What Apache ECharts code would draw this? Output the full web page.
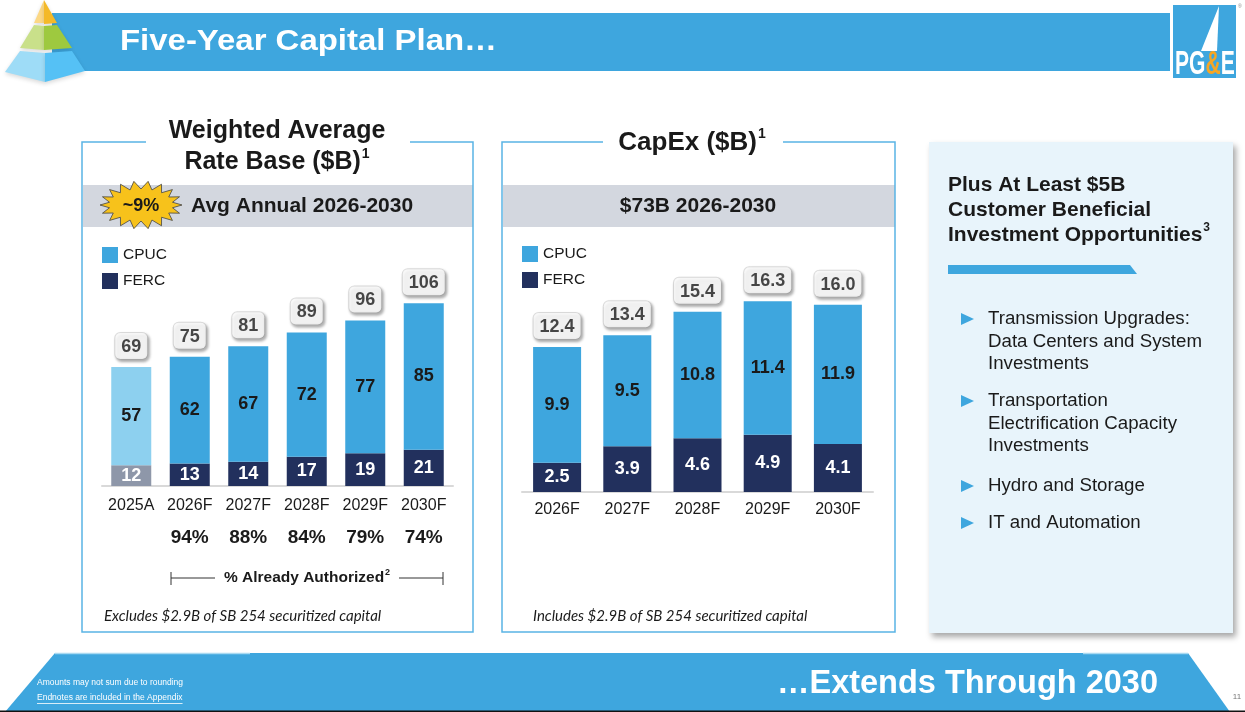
<!DOCTYPE html>
<html>
<head>
<meta charset="utf-8">
<script src="https://cdn.jsdelivr.net/npm/echarts@6/dist/echarts.min.js"></script>
<style>
html,body{margin:0;padding:0;background:#fff;}
#c{width:1245px;height:712px;}
</style>
</head>
<body>
<div id="c"></div>
<script>
// ---------- DATA ----------
const rbCategories = ['2025A', '2026F', '2027F', '2028F', '2029F', '2030F'];
const rbCPUC = [57, 62, 67, 72, 77, 85];
const rbFERC = [12, 13, 14, 17, 19, 21];
const rbTotal = [69, 75, 81, 89, 96, 106];
const rbAuthorized = ['', '94%', '88%', '84%', '79%', '74%'];

const capexCategories = ['2026F', '2027F', '2028F', '2029F', '2030F'];
const capexCPUC = [9.9, 9.5, 10.8, 11.4, 11.9];
const capexFERC = [2.5, 3.9, 4.6, 4.9, 4.1];
const capexTotal = [12.4, 13.4, 15.4, 16.3, 16.0];

const opportunities = [
  ['Transmission Upgrades:', 'Data Centers and System', 'Investments'],
  ['Transportation', 'Electrification Capacity', 'Investments'],
  ['Hydro and Storage'],
  ['IT and Automation']
];

// ---------- STYLE ----------
const BLUE = '#3ea6de';
const NAVY = '#22305d';
const LIGHT_BLUE = '#8dd0ef';
const GRAY_BAR = '#8e97a9';
const BAND = '#d3d7df';
const BORDER = '#5ab4e5';
const TXT = '#1a1a1a';
const FF = '"Liberation Sans", Arial, Helvetica, sans-serif';
const FF_ITALIC = 'Lato, "Open Sans", sans-serif';

const cv = document.createElement('canvas').getContext('2d');
function tw(text, size, weight) {
  cv.font = (weight || 'normal') + ' ' + size + 'px ' + FF;
  return cv.measureText(text).width;
}
function txt(text, x, y, size, opts) {
  opts = opts || {};
  const el = {
    type: 'text', x: x, y: y, z: opts.z || 10,
    style: {
      text: text, fill: opts.fill || TXT, fontSize: size,
      fontWeight: opts.weight || 'normal', fontFamily: opts.family || FF,
      fontStyle: opts.style || 'normal',
      align: opts.align || 'left', textAlign: opts.align || 'left',
      verticalAlign: 'middle', textVerticalAlign: 'middle'
    }
  };
  if (opts.scaleX) el.scaleX = opts.scaleX;
  return el;
}
// text with superscript
function supText(main, sup, cx, cy, size, supSize, align) {
  const w1 = tw(main, size, 'bold');
  const w2 = tw(sup, supSize, 'bold');
  let x0 = align === 'left' ? cx : cx - (w1 + w2 + 1) / 2;
  return [
    txt(main, x0, cy, size, {weight: 'bold'}),
    txt(sup, x0 + w1 + 1, cy - size * 0.33, supSize, {weight: 'bold'})
  ];
}

const graphics = [];

// Header bar
graphics.push({type: 'rect', shape: {x: 52, y: 13, width: 1118, height: 58}, style: {fill: BLUE}, z: 1});
(function () {
  const t = 'Five-Year Capital Plan…';
  const w = tw(t, 29, 'bold');
  graphics.push(txt(t, 120, 42, 29, {weight: 'bold', fill: '#fff', scaleX: 377 / w}));
})();

// Pyramid
const pyr = [
  [[44, 0], [44, 23], [34, 23], '#fcd885'],
  [[44, 0], [57, 23], [44, 24], '#f4b928'],
  [[34, 25], [44, 26], [44, 50], [20, 48], '#c9e08a'],
  [[44, 26], [57, 25], [72, 48], [44, 50], '#9ec93f'],
  [[20, 51], [45, 53], [45, 82], [5, 72], '#9edcf7'],
  [[45, 53], [72, 51], [85, 71], [45, 82], '#55c1f5']
];
pyr.forEach(p => {
  const col = p[p.length - 1];
  graphics.push({type: 'polygon', z: 5, shape: {points: p.slice(0, -1)}, style: {fill: col, shadowBlur: 4, shadowColor: 'rgba(0,0,0,0.15)', shadowOffsetY: 2}});
});

// Logo
graphics.push({type: 'rect', shape: {x: 1173, y: 5, width: 63, height: 73}, style: {fill: BLUE}, z: 2});
graphics.push({type: 'polygon', shape: {points: [[1219, 6], [1201, 51], [1217, 51]]}, style: {fill: '#fff'}, z: 3});
(function () {
  const s = 34, sx = 0.62;
  const wPG = tw('PG', s, 'bold'), wAmp = tw('&', s, 'bold');
  graphics.push({
    type: 'group', x: 1175, y: 65, scaleX: sx, z: 4,
    children: [
      txt('PG', 0, 0, s, {weight: 'bold', fill: '#fff'}),
      txt('&', wPG, 0, s, {weight: 'bold', fill: '#f6a623'}),
      txt('E', wPG + wAmp, 0, s, {weight: 'bold', fill: '#fff'})
    ]
  });
})();
graphics.push(txt('®', 1238, 7, 5, {fill: '#888'}));

// Panel frames with title gaps
function frame(x1, x2, y1, y2, g1, g2) {
  return {type: 'polyline', shape: {points: [[g1, y1], [x1, y1], [x1, y2], [x2, y2], [x2, y1], [g2, y1]]}, style: {fill: null, stroke: BORDER, lineWidth: 1.5}, z: 2};
}
graphics.push(frame(82, 473, 142, 632, 146, 410));
graphics.push(frame(502, 895, 142, 632, 603, 783));

// Titles
graphics.push(txt('Weighted Average', 277, 131, 25, {weight: 'bold', align: 'center'}));
graphics.push(...supText('Rate Base ($B)', '1', 277, 162, 25, 14));
graphics.push(...supText('CapEx ($B)', '1', 692, 143, 26, 14));

// Gray bands
graphics.push({type: 'rect', shape: {x: 83, y: 185, width: 390, height: 42}, style: {fill: BAND}, z: 1});
graphics.push({type: 'rect', shape: {x: 503, y: 185, width: 392, height: 42}, style: {fill: BAND}, z: 1});
graphics.push(txt('Avg Annual 2026-2030', 191, 206, 21, {weight: 'bold'}));
graphics.push(txt('$73B 2026-2030', 698, 206, 21, {weight: 'bold', align: 'center'}));

// Starburst
(function () {
  const cx = 141, cy = 205, n = 18, pts = [];
  for (let i = 0; i < n * 2; i++) {
    const a = Math.PI * i / n;
    const out = i % 2 === 0;
    const rx = out ? 41 : 32, ry = out ? 24 : 16;
    pts.push([cx + rx * Math.cos(a), cy + ry * Math.sin(a)]);
  }
  graphics.push({type: 'polygon', shape: {points: pts}, style: {fill: '#f7c21b', stroke: '#444', lineWidth: 0.8}, z: 5});
  graphics.push(txt('~9%', cx, cy + 1, 18, {weight: 'bold', align: 'center', z: 6}));
})();

// Authorized bracket
graphics.push({type: 'polyline', shape: {points: [[171, 572], [171, 585]]}, style: {stroke: '#333', lineWidth: 1}, z: 3});
graphics.push({type: 'polyline', shape: {points: [[443, 572], [443, 585]]}, style: {stroke: '#333', lineWidth: 1}, z: 3});
graphics.push({type: 'polyline', shape: {points: [[171, 578], [215, 578]]}, style: {stroke: '#333', lineWidth: 1}, z: 3});
graphics.push({type: 'polyline', shape: {points: [[399, 578], [443, 578]]}, style: {stroke: '#333', lineWidth: 1}, z: 3});
graphics.push(...supText('% Already Authorized', '2', 307, 578, 15.5, 9));

// Footnotes in panels
graphics.push(txt('Excludes $2.9B of SB 254 securitized capital', 104, 616, 15, {style: 'italic', family: FF_ITALIC}));
graphics.push(txt('Includes $2.9B of SB 254 securitized capital', 533, 616, 15, {style: 'italic', family: FF_ITALIC}));

// Right info panel
graphics.push({type: 'rect', shape: {x: 929, y: 142, width: 304, height: 491}, style: {fill: '#e8f4fb', shadowBlur: 6, shadowOffsetX: 3, shadowOffsetY: 4, shadowColor: 'rgba(0,0,0,0.35)'}, z: 1});
graphics.push(txt('Plus At Least $5B', 948, 185, 21, {weight: 'bold'}));
graphics.push(txt('Customer Beneficial', 948, 210, 21, {weight: 'bold'}));
graphics.push(...supText('Investment Opportunities', '3', 948, 235, 21, 12, 'left'));
graphics.push({type: 'polygon', shape: {points: [[948, 265], [1130, 265], [1137, 274], [948, 274]]}, style: {fill: BLUE}, z: 2});
const itemY = [319, 401, 486, 523];
opportunities.forEach((lines, i) => {
  const y = itemY[i];
  graphics.push({type: 'polygon', shape: {points: [[961, y - 6], [974, y], [961, y + 6]]}, style: {fill: BLUE}, z: 3});
  lines.forEach((l, j) => graphics.push(txt(l, 988, y + j * 22.5, 18.7)));
});

// Footer
graphics.push({type: 'polygon', shape: {points: [[55, 653], [1188, 653], [1230, 712], [5, 712]]}, style: {fill: BLUE}, z: 1});
graphics.push({type: 'polyline', shape: {points: [[55, 653.5], [250, 653.5]]}, style: {stroke: '#a9d9f1', lineWidth: 1.5}, z: 2});
graphics.push({type: 'polyline', shape: {points: [[1083, 653.5], [1188, 653.5]]}, style: {stroke: '#a9d9f1', lineWidth: 1.5}, z: 2});
graphics.push({type: 'rect', shape: {x: 0, y: 710.5, width: 1245, height: 1.5}, style: {fill: '#111'}, z: 3});
graphics.push(txt('…Extends Through 2030', 1158, 684, 32.5, {weight: 'bold', fill: '#fff', align: 'right'}));
graphics.push(txt('Amounts may not sum due to rounding', 37, 683, 8.5, {fill: '#fff'}));
graphics.push(txt('Endnotes are included in the Appendix', 37, 698, 8.5, {fill: '#fff'}));
graphics.push({type: 'polyline', shape: {points: [[37, 703.5], [37 + tw('Endnotes are included in the Appendix', 8.5), 703.5]]}, style: {stroke: '#fff', lineWidth: 0.8}, z: 3});
graphics.push(txt('11', 1237, 697, 8, {fill: '#777', align: 'center'}));

// ---------- CHART ----------
const labelBase = {show: true, position: 'inside', fontFamily: FF, fontWeight: 'bold', fontSize: 18};
const totalLabel = {
  show: true, position: 'top', distance: 8, fontFamily: FF, fontWeight: 'bold', fontSize: 18, color: TXT,
  backgroundColor: '#fff', borderColor: '#d4d4d4', borderWidth: 1, borderRadius: 5, padding: [5, 6, 3, 6],
  shadowBlur: 3, shadowOffsetX: 1.5, shadowOffsetY: 2, shadowColor: 'rgba(0,0,0,0.35)'
};

const option = {
  animation: false,
  backgroundColor: '#fff',
  textStyle: {fontFamily: FF},
  graphic: {elements: graphics},
  legend: [
    {data: ['CPUC', 'FERC'], orient: 'vertical', left: 102, top: 247, padding: 0, itemGap: 10, itemWidth: 16, itemHeight: 16, icon: 'rect', textStyle: {fontSize: 15.5, color: TXT, fontFamily: FF}, selectedMode: false},
    {data: ['CPUC', 'FERC'], orient: 'vertical', left: 522, top: 246, padding: 0, itemGap: 10, itemWidth: 16, itemHeight: 16, icon: 'rect', textStyle: {fontSize: 15.5, color: TXT, fontFamily: FF}, selectedMode: false}
  ],
  grid: [
    {left: 102, width: 351, top: 279, height: 207},
    {left: 522, width: 351, top: 258, height: 234}
  ],
  xAxis: [
    {type: 'category', gridIndex: 0, data: rbCategories, axisLine: {lineStyle: {color: '#d9d9d9', width: 2}}, axisTick: {show: false},
      axisLabel: {interval: 0, hideOverlap: false, margin: 12, fontSize: 16, color: TXT, fontFamily: FF}},
    {type: 'category', gridIndex: 0, data: rbAuthorized, position: 'bottom', axisLine: {show: false}, axisTick: {show: false},
      axisLabel: {interval: 0, hideOverlap: false, margin: 42, fontSize: 19, fontWeight: 'bold', color: TXT, fontFamily: FF}},
    {type: 'category', gridIndex: 1, data: capexCategories, axisLine: {lineStyle: {color: '#d9d9d9', width: 2}}, axisTick: {show: false},
      axisLabel: {interval: 0, hideOverlap: false, margin: 10, fontSize: 16, color: TXT, fontFamily: FF}}
  ],
  yAxis: [
    {type: 'value', gridIndex: 0, min: 0, max: 120, show: false, splitLine: {show: false}},
    {type: 'value', gridIndex: 1, min: 0, max: 20, show: false, splitLine: {show: false}}
  ],
  series: [
    {name: 'FERC', type: 'bar', xAxisIndex: 0, yAxisIndex: 0, stack: 'rb', barWidth: 40, color: NAVY,
      data: rbFERC.map((v, i) => i === 0 ? {value: v, itemStyle: {color: GRAY_BAR}} : v),
      label: Object.assign({}, labelBase, {color: '#fff'})},
    {name: 'CPUC', type: 'bar', xAxisIndex: 0, yAxisIndex: 0, stack: 'rb', barWidth: 40, color: BLUE,
      data: rbCPUC.map((v, i) => i === 0 ? {value: v, itemStyle: {color: LIGHT_BLUE}} : v),
      label: Object.assign({}, labelBase, {color: TXT})},
    {name: 'totalRB', type: 'scatter', xAxisIndex: 0, yAxisIndex: 0, symbolSize: 0, data: rbTotal, label: totalLabel, z: 5},
    {name: 'FERC', type: 'bar', xAxisIndex: 2, yAxisIndex: 1, stack: 'cx', barWidth: 48, color: NAVY,
      data: capexFERC, label: Object.assign({}, labelBase, {color: '#fff', formatter: p => p.value.toFixed(1)})},
    {name: 'CPUC', type: 'bar', xAxisIndex: 2, yAxisIndex: 1, stack: 'cx', barWidth: 48, color: BLUE,
      data: capexCPUC, label: Object.assign({}, labelBase, {color: TXT, formatter: p => p.value.toFixed(1)})},
    {name: 'totalCX', type: 'scatter', xAxisIndex: 2, yAxisIndex: 1, symbolSize: 0, data: capexTotal,
      label: Object.assign({}, totalLabel, {formatter: p => p.value.toFixed(1)}), z: 5}
  ]
};
const chart = echarts.init(document.getElementById('c'), null, {renderer: 'canvas'});
chart.setOption(option);
</script>
</body>
</html>
